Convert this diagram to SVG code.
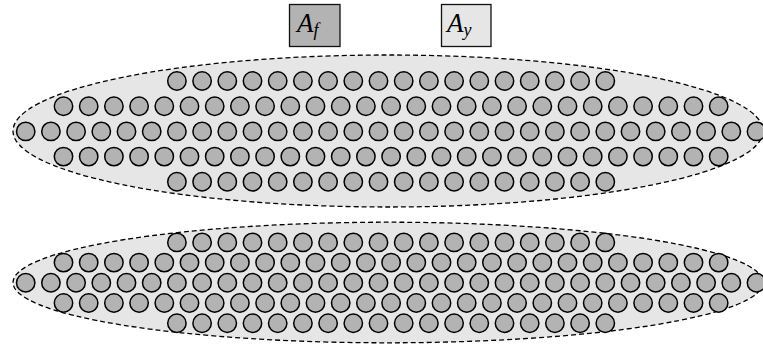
<svg xmlns="http://www.w3.org/2000/svg" xmlns:xlink="http://www.w3.org/1999/xlink" width="763" height="349" viewBox="0 0 763 349">
<style>
.c{fill:#b3b3b3;stroke:#000;stroke-width:1.5}
.ell{fill:#e6e6e6;stroke:#000;stroke-width:1.3;stroke-dasharray:5 3}
.box{stroke:#111;stroke-width:1.3}
</style>
<defs>
<g id="r30">
<circle class="c" r="9.2" cx="25.7" cy="0"/><circle class="c" r="9.2" cx="50.9" cy="0"/><circle class="c" r="9.2" cx="76.1" cy="0"/><circle class="c" r="9.2" cx="101.3" cy="0"/><circle class="c" r="9.2" cx="126.5" cy="0"/><circle class="c" r="9.2" cx="151.7" cy="0"/>
<use xlink:href="#r18"/>
<circle class="c" r="9.2" cx="630.5" cy="0"/><circle class="c" r="9.2" cx="655.7" cy="0"/><circle class="c" r="9.2" cx="680.9" cy="0"/><circle class="c" r="9.2" cx="706.1" cy="0"/><circle class="c" r="9.2" cx="731.3" cy="0"/><circle class="c" r="9.2" cx="756.5" cy="0"/>
</g>
<g id="r18">
<circle class="c" r="9.2" cx="176.9" cy="0"/><circle class="c" r="9.2" cx="202.1" cy="0"/><circle class="c" r="9.2" cx="227.3" cy="0"/><circle class="c" r="9.2" cx="252.5" cy="0"/><circle class="c" r="9.2" cx="277.7" cy="0"/><circle class="c" r="9.2" cx="302.9" cy="0"/><circle class="c" r="9.2" cx="328.1" cy="0"/><circle class="c" r="9.2" cx="353.3" cy="0"/><circle class="c" r="9.2" cx="378.5" cy="0"/><circle class="c" r="9.2" cx="403.7" cy="0"/><circle class="c" r="9.2" cx="428.9" cy="0"/><circle class="c" r="9.2" cx="454.1" cy="0"/><circle class="c" r="9.2" cx="479.3" cy="0"/><circle class="c" r="9.2" cx="504.5" cy="0"/><circle class="c" r="9.2" cx="529.7" cy="0"/><circle class="c" r="9.2" cx="554.9" cy="0"/><circle class="c" r="9.2" cx="580.1" cy="0"/><circle class="c" r="9.2" cx="605.3" cy="0"/>
</g>
<g id="r27">
<circle class="c" r="9.2" cx="63.5" cy="0"/><circle class="c" r="9.2" cx="88.7" cy="0"/><circle class="c" r="9.2" cx="113.9" cy="0"/><circle class="c" r="9.2" cx="139.1" cy="0"/><circle class="c" r="9.2" cx="164.3" cy="0"/><circle class="c" r="9.2" cx="189.5" cy="0"/><circle class="c" r="9.2" cx="214.7" cy="0"/><circle class="c" r="9.2" cx="239.9" cy="0"/><circle class="c" r="9.2" cx="265.1" cy="0"/><circle class="c" r="9.2" cx="290.3" cy="0"/><circle class="c" r="9.2" cx="315.5" cy="0"/><circle class="c" r="9.2" cx="340.7" cy="0"/><circle class="c" r="9.2" cx="365.9" cy="0"/><circle class="c" r="9.2" cx="391.1" cy="0"/><circle class="c" r="9.2" cx="416.3" cy="0"/><circle class="c" r="9.2" cx="441.5" cy="0"/><circle class="c" r="9.2" cx="466.7" cy="0"/><circle class="c" r="9.2" cx="491.9" cy="0"/><circle class="c" r="9.2" cx="517.1" cy="0"/><circle class="c" r="9.2" cx="542.3" cy="0"/><circle class="c" r="9.2" cx="567.5" cy="0"/><circle class="c" r="9.2" cx="592.7" cy="0"/><circle class="c" r="9.2" cx="617.9" cy="0"/><circle class="c" r="9.2" cx="643.1" cy="0"/><circle class="c" r="9.2" cx="668.3" cy="0"/><circle class="c" r="9.2" cx="693.5" cy="0"/><circle class="c" r="9.2" cx="718.7" cy="0"/>
</g>
</defs>
<g id="legend-Af">
<rect class="box" x="289.5" y="4.5" width="50.5" height="42" fill="#b3b3b3"/>
<text x="297" y="32" font-family="'Liberation Serif', 'DejaVu Serif', serif" font-style="italic" font-size="27" fill="#000">A<tspan font-size="18" dy="4">f</tspan></text>
</g>
<g id="legend-Ay">
<rect class="box" x="441.5" y="4.5" width="49.5" height="42" fill="#e6e6e6"/>
<text x="447" y="32" font-family="'Liberation Serif', 'DejaVu Serif', serif" font-style="italic" font-size="27" fill="#000">A<tspan font-size="18" dy="4">y</tspan></text>
</g>
<g id="cluster-top">
<ellipse class="ell" cx="388" cy="131" rx="375" ry="76"/>
<use xlink:href="#r18" y="81"/>
<use xlink:href="#r27" y="106.2"/>
<use xlink:href="#r30" y="131.4"/>
<use xlink:href="#r27" y="156.6"/>
<use xlink:href="#r18" y="181.8"/>
</g>
<g id="cluster-bottom">
<ellipse class="ell" cx="388" cy="282.5" rx="375" ry="60.3"/>
<use xlink:href="#r18" y="242.4"/>
<use xlink:href="#r27" y="262.6"/>
<use xlink:href="#r30" y="282.8"/>
<use xlink:href="#r27" y="303"/>
<use xlink:href="#r18" y="323.2"/>
</g>
</svg>
